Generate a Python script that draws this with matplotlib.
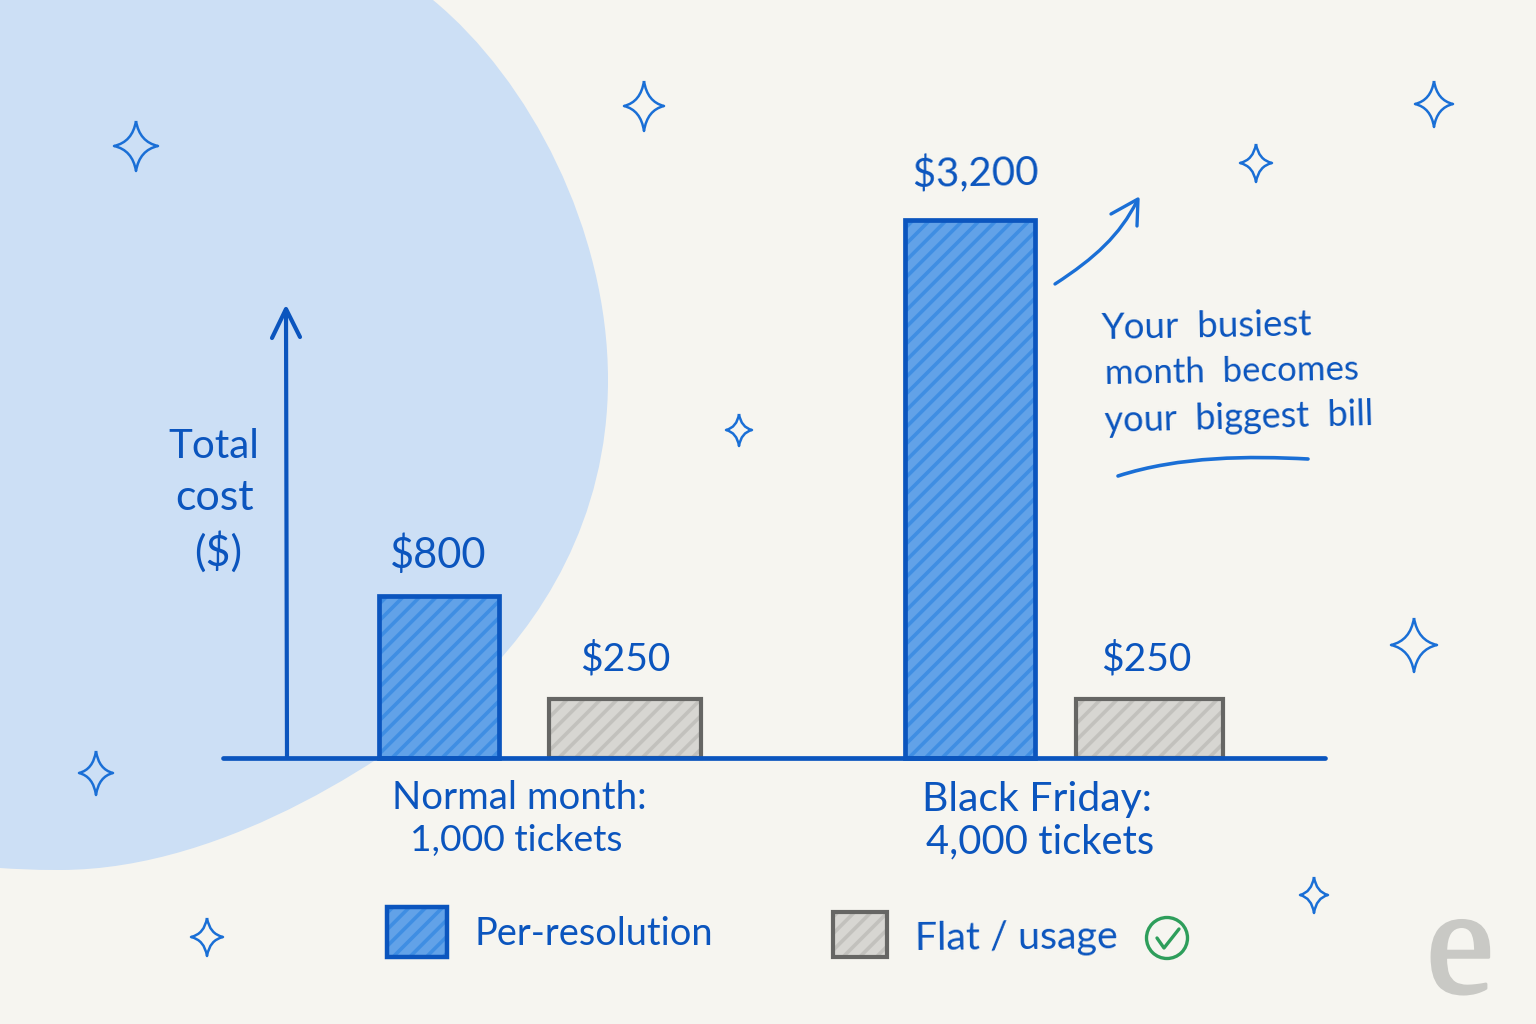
import numpy as np
import matplotlib
matplotlib.use("Agg")
import matplotlib.pyplot as plt
import matplotlib.patheffects as pe
from matplotlib.path import Path
from matplotlib.patches import PathPatch, Rectangle, Circle

# ---- data ----
groups = ["Normal month:\n1,000 tickets", "Black Friday:\n4,000 tickets"]
series = ["Per-resolution", "Flat / usage"]
per_resolution = [800, 3200]
flat_usage = [250, 250]
y_label = "Total\ncost\n($)"
note = ["Your  busiest", "month  becomes", "your  biggest  bill"]

BG = "#F6F5F0"; BLOB = "#CCDFF5"; BLUE = "#0B55BE"; STAR = "#1A6FD6"
FILL = "#62A2E8"; HATCH = "#3F8EE3"; GFILL = "#D7D6D2"; GHATCH = "#C2C1BD"; GEDGE = "#666664"
plt.rcParams["font.family"] = ["Lato", "DejaVu Sans"]
plt.rcParams["hatch.linewidth"] = 2.6

fig = plt.figure(figsize=(15.36, 10.24), dpi=100, facecolor=BG)
bg = fig.add_axes([0, 0, 1, 1], zorder=0)
bg.set_xlim(0, 1536); bg.set_ylim(1024, 0); bg.axis("off")

# blob
V = [(0, 0), (433, 0), (530, 80), (608, 230), (608, 380), (608, 520), (540, 625), (470, 690),
     (400, 750), (230, 870), (60, 870), (30, 870), (15, 869), (0, 868), (0, 0)]
C = [Path.MOVETO, Path.LINETO] + [Path.CURVE4] * 12 + [Path.CLOSEPOLY]
bg.add_patch(PathPatch(Path(V, C), fc=BLOB, ec="none"))

# sparkles
stars = [(136, 146, 22, 25), (644, 106, 20, 25), (1434, 104, 19, 23), (1256, 163, 16, 19),
         (739, 430, 13, 16), (1414, 645, 23, 27), (96, 773, 17, 22), (1314, 895, 14, 18),
         (207, 937, 16, 19)]
for x, y, rx, ry in stars:
    k = 0.16
    v = [(x, y - ry), (x + k * rx, y - k * ry), (x + rx, y),
         (x + k * rx, y + k * ry), (x, y + ry), (x - k * rx, y + k * ry),
         (x - rx, y), (x - k * rx, y - k * ry), (x, y - ry)]
    c = [Path.MOVETO] + [Path.CURVE3] * 8
    bg.add_patch(PathPatch(Path(v, c), fc="none", ec=STAR, lw=1.8, joinstyle="round"))

# chart axes: x in layout units, y through a compressive scale like the sketch
ax = fig.add_axes([222 / 1536, 1 - 758 / 1024, 1104 / 1536, 608 / 1024], zorder=1)
ax.patch.set_visible(False)
ax.set_xlim(222, 1326)
ax.set_yscale("function", functions=(lambda v: np.abs(v) ** 0.864, lambda v: np.abs(v) ** (1 / 0.864)))
ax.set_ylim(0, 3685)
ax.axis("off")

x_per = [438.5, 970]; w_per = [120, 130]
x_flat = [625, 1149]; w_flat = [152, 147]
ax.bar(x_per, per_resolution, width=w_per, color=FILL, edgecolor=HATCH, hatch="//", linewidth=0)
ax.bar(x_per, per_resolution, width=w_per, fill=False, edgecolor=BLUE, linewidth=3.4, clip_on=False)
ax.bar(x_flat, flat_usage, width=w_flat, color=GFILL, edgecolor=GHATCH, hatch="//", linewidth=0)
ax.bar(x_flat, flat_usage, width=w_flat, fill=False, edgecolor=GEDGE, linewidth=3.0, clip_on=False)

# axes lines
bg2 = fig.add_axes([0, 0, 1, 1], zorder=2)
bg2.set_xlim(0, 1536); bg2.set_ylim(1024, 0); bg2.axis("off")
L = dict(color=BLUE, solid_capstyle="round", solid_joinstyle="round")
bg2.plot([223, 1325], [758, 758], lw=3.4, **L)
bg2.plot([287, 286], [758, 310], lw=3.0, **L)
bg2.plot([272, 286, 300], [338, 309, 337], lw=3.0, **L)

# callout arrow + underline
A = dict(color=STAR, solid_capstyle="round", solid_joinstyle="round")
bg2.add_patch(PathPatch(Path([(1055, 284), (1095, 258), (1120, 235), (1137, 201)],
                             [Path.MOVETO, Path.CURVE4, Path.CURVE4, Path.CURVE4]),
                        fc="none", ec=STAR, lw=2.4, capstyle="round"))
bg2.plot([1111, 1138, 1137], [214, 199, 226], lw=2.4, **A)
bg2.add_patch(PathPatch(Path([(1118, 476), (1180, 456), (1250, 456), (1308, 459)],
                             [Path.MOVETO, Path.CURVE4, Path.CURVE4, Path.CURVE4]),
                        fc="none", ec=STAR, lw=2.6, capstyle="round"))

T = dict(color=BLUE, ha="center", va="center")
def txt(x, y, s, size, rot=0, **kw):
    d = dict(T); d.update(kw)
    bg2.text(x, y, s, fontsize=size, rotation=rot, rotation_mode="anchor", **d)

# value labels
for x, y, v, fs in zip([438, 976], [555, 174], per_resolution, [30, 29]):
    txt(x, y, f"${v:,}", fs, rot=0 if v < 1000 else 1)
for x, y, v in zip([625, 1146], [659, 659], flat_usage):
    txt(x, y, f"${v}", 28)

# y label
for y, s, x, fs in zip([446, 498, 552], y_label.split("\n"), [214, 215, 218], [29, 31, 31]):
    txt(x, y, s, fs)

# category labels
for (x1, x2, y1, y2, f1, f2), g in zip([(519, 516, 798, 841, 27.6, 26.8),
                                        (1037, 1040, 799, 842, 29.5, 28.7)], groups):
    a, b = g.split("\n")
    txt(x1, y1, a, f1)
    txt(x2, y2, b, f2)

# note
for (x, y, r, fs), s in zip([(1206, 327, 1, 26.5), (1232, 372, 1, 25), (1239, 418, 1.5, 26)], note):
    txt(x, y, s, fs, rot=r)

# legend
bg2.add_patch(Rectangle((387, 907), 60, 50, fc=FILL, ec=HATCH, hatch="//", lw=0))
bg2.add_patch(Rectangle((387, 907), 60, 50, fill=False, ec=BLUE, lw=3.2))
bg2.add_patch(Rectangle((833, 912), 54, 45, fc=GFILL, ec=GHATCH, hatch="//", lw=0))
bg2.add_patch(Rectangle((833, 912), 54, 45, fill=False, ec=GEDGE, lw=3.0))
txt(475, 934, series[0], 27.4, ha="left")
txt(915, 939, series[1], 28.4, ha="left", rot=0.5)
bg2.add_patch(Circle((1167, 938), 20.5, fc="none", ec="#2E9E5B", lw=2.4))
bg2.plot([1157, 1164, 1179], [938, 948, 929], color="#2E9E5B", lw=2.4,
         solid_capstyle="round", solid_joinstyle="round")

# logo
bg2.text(1460, 956, "e", fontsize=110, family="Liberation Serif", color="#C9C9C5", ha="center", va="center",
         path_effects=[pe.withStroke(linewidth=2.2, foreground="#C9C9C5")])

fig.savefig("out.png", dpi=100, facecolor=BG)
